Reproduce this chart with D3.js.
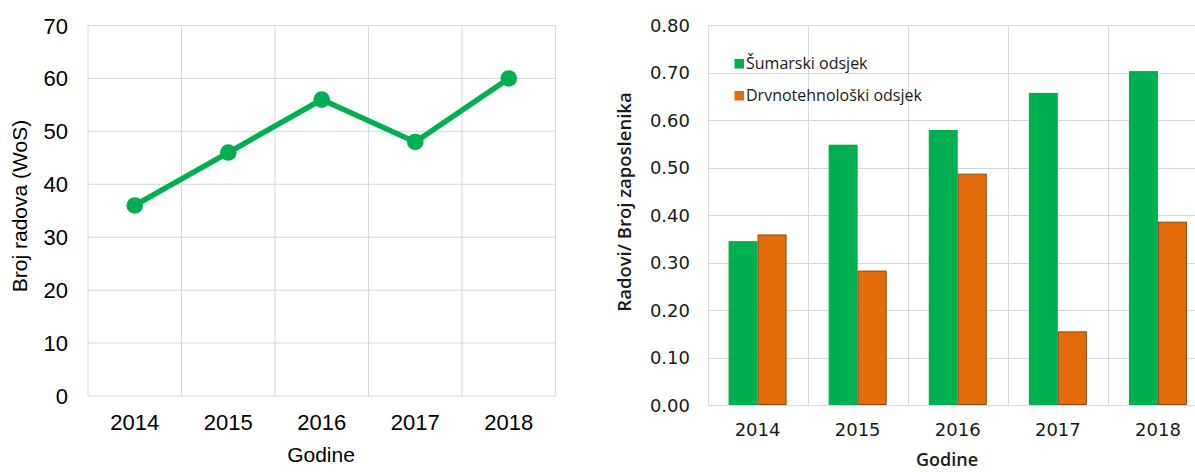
<!DOCTYPE html>
<html>
<head>
<meta charset="UTF-8">
<style>
body{
	margin: 0;
	background: #fff;
}
svg{
	display: block;
}
.grid line{
	stroke: #d9d9d9;
	stroke-width: 1;
}
.left text{
	font-family: "Liberation Sans", Arial, sans-serif;
	fill: #000;
}
.right text{
	font-family: "DejaVu Sans", sans-serif;
	fill: #1a1a1a;
}
.right .title{
	font-family: "Open Sans", sans-serif;
	font-weight: 600;
}
.right .legend text{
	font-family: "Open Sans", sans-serif;
}
</style>
<script src="https://cdn.jsdelivr.net/npm/d3@7"></script>
</head>
<body>
<script>
var years = ["2014", "2015", "2016", "2017", "2018"];
var wosCount = [36, 46, 56, 48, 60];
var leftTicks = [0, 10, 20, 30, 40, 50, 60, 70];

var seriesNames = ["Šumarski odsjek", "Drvnotehnološki odsjek"];
var sumarski = [0.345, 0.548, 0.579, 0.657, 0.703];
var drvno = [0.359, 0.283, 0.487, 0.155, 0.386];
var rightTicks = [0, 0.1, 0.2, 0.3, 0.4, 0.5, 0.6, 0.7, 0.8];

var svg = d3.select("body").append("svg")
	.attr("width", 1195)
	.attr("height", 472);

// ---- left chart: line ----
var left = svg.append("g").attr("class", "left");

var x1 = d3.scaleBand()
	.domain(years)
	.range([88, 555.5])
	.padding(0);

var y1 = d3.scaleLinear()
	.domain([0, 70])
	.range([396, 25.5]);

var g1 = left.append("g").attr("class", "grid");
g1.selectAll(".h")
	.data(leftTicks)
	.enter().append("line")
	.attr("x1", x1.range()[0]).attr("x2", x1.range()[1])
	.attr("y1", function(d){ return y1(d); })
	.attr("y2", function(d){ return y1(d); });
g1.selectAll(".v")
	.data(years.concat(["end"]))
	.enter().append("line")
	.attr("x1", function(d, i){ return x1.range()[0] + i * x1.bandwidth(); })
	.attr("x2", function(d, i){ return x1.range()[0] + i * x1.bandwidth(); })
	.attr("y1", y1(0)).attr("y2", y1(70));

left.selectAll(".ytick")
	.data(leftTicks)
	.enter().append("text")
	.attr("x", 68)
	.attr("y", function(d){ return y1(d) + 8; })
	.attr("text-anchor", "end")
	.style("font-size", "22px")
	.text(function(d){ return d; });

left.selectAll(".xtick")
	.data(years)
	.enter().append("text")
	.attr("x", function(d){ return x1(d) + x1.bandwidth() / 2; })
	.attr("y", 430)
	.attr("text-anchor", "middle")
	.style("font-size", "22px")
	.text(function(d){ return d; });

left.append("text")
	.attr("transform", "translate(27,206) rotate(-90)")
	.attr("text-anchor", "middle")
	.style("font-size", "21px")
	.text("Broj radova (WoS)");

left.append("text")
	.attr("x", 321)
	.attr("y", 462)
	.attr("text-anchor", "middle")
	.style("font-size", "21px")
	.text("Godine");

var line = d3.line()
	.x(function(d, i){ return x1(years[i]) + x1.bandwidth() / 2; })
	.y(function(d){ return y1(d); });

left.append("path")
	.datum(wosCount)
	.attr("d", line)
	.attr("fill", "none")
	.attr("stroke", "#00b050")
	.attr("stroke-width", 5.5);

left.selectAll(".dot")
	.data(wosCount)
	.enter().append("circle")
	.attr("cx", function(d, i){ return x1(years[i]) + x1.bandwidth() / 2; })
	.attr("cy", function(d){ return y1(d); })
	.attr("r", 8.3)
	.attr("fill", "#00b050");

// ---- right chart: grouped bars ----
var right = svg.append("g").attr("class", "right");

var x2 = d3.scaleBand()
	.domain(years)
	.range([707.5, 1208])
	.padding(0);

var y2 = d3.scaleLinear()
	.domain([0, 0.8])
	.range([405, 25]);

var barW = 29;

var g2 = right.append("g").attr("class", "grid");
g2.selectAll(".h")
	.data(rightTicks)
	.enter().append("line")
	.attr("x1", x2.range()[0]).attr("x2", x2.range()[1])
	.attr("y1", function(d){ return Math.round(y2(d)) + 0.5; })
	.attr("y2", function(d){ return Math.round(y2(d)) + 0.5; });
g2.selectAll(".v")
	.data(years)
	.enter().append("line")
	.attr("x1", function(d){ return Math.round(x2(d)) + 0.5; })
	.attr("x2", function(d){ return Math.round(x2(d)) + 0.5; })
	.attr("y1", y2(0)).attr("y2", y2(0.8));

right.selectAll(".green")
	.data(sumarski)
	.enter().append("rect")
	.attr("x", function(d, i){ return x2(years[i]) + x2.bandwidth() / 2 - barW; })
	.attr("y", function(d){ return y2(d); })
	.attr("width", barW)
	.attr("height", function(d){ return y2(0) - y2(d); })
	.attr("fill", "#00b050");

right.selectAll(".orange")
	.data(drvno)
	.enter().append("rect")
	.attr("x", function(d, i){ return x2(years[i]) + x2.bandwidth() / 2 + 0.5; })
	.attr("y", function(d){ return y2(d) + 0.5; })
	.attr("width", barW - 1)
	.attr("height", function(d){ return y2(0) - y2(d) - 1; })
	.attr("fill", "#e46c0a")
	.attr("stroke", "#8a4a14")
	.attr("stroke-width", 1);

right.selectAll(".ytick")
	.data(rightTicks)
	.enter().append("text")
	.attr("x", 690)
	.attr("y", function(d){ return y2(d) + 6.5; })
	.attr("text-anchor", "end")
	.style("font-size", "18px")
	.text(function(d){ return d3.format(".2f")(d); });

right.selectAll(".xtick")
	.data(years)
	.enter().append("text")
	.attr("x", function(d){ return x2(d) + x2.bandwidth() / 2; })
	.attr("y", 436)
	.attr("text-anchor", "middle")
	.style("font-size", "18px")
	.text(function(d){ return d; });

right.append("text")
	.attr("class", "title")
	.attr("transform", "translate(631,202) rotate(-90)")
	.attr("text-anchor", "middle")
	.style("font-size", "18.5px")
	.text("Radovi/ Broj zaposlenika");

right.append("text")
	.attr("class", "title")
	.attr("x", 947)
	.attr("y", 466)
	.attr("text-anchor", "middle")
	.style("font-size", "18px")
	.text("Godine");

var legendColors = ["#00b050", "#e46c0a"];
var legend = right.selectAll(".legend")
	.data(seriesNames)
	.enter().append("g")
	.attr("class", "legend")
	.attr("transform", function(d, i){ return "translate(734.5," + (59 + i * 32) + ")"; });
legend.append("rect")
	.attr("width", 9.5).attr("height", 9.5)
	.attr("fill", function(d, i){ return legendColors[i]; });
legend.append("text")
	.attr("x", 11.5)
	.attr("y", 10)
	.style("font-size", "16px")
	.text(function(d){ return d; });
</script>
</body>
</html>
